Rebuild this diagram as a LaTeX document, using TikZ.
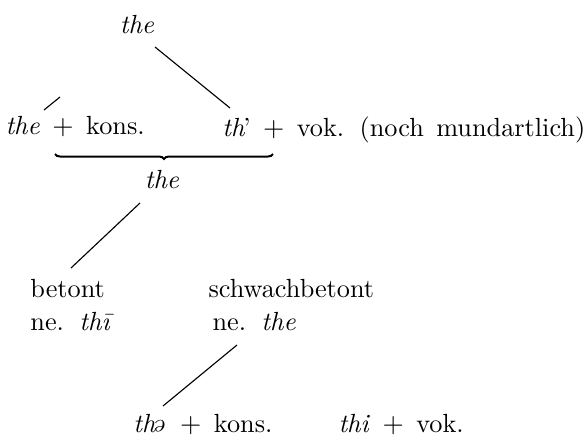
\documentclass[tikz,border=0pt]{standalone}
\usepackage{tikz}
\usepackage{graphicx}
\usetikzlibrary{positioning,calc,decorations.pathreplacing}
\newcommand{\schwa}{\rotatebox[origin=c]{180}{e}}
\newcommand{\wordfont}{\fontsize{10.5}{12}\selectfont\spaceskip=5pt plus 1pt\relax}

\begin{document}
\begin{tikzpicture}[x=0.4pt,y=-0.4pt,inner sep=0pt,
  word/.style={anchor=base west,font=\wordfont},
  branch/.style={line width=0.45pt},
  joinbrace/.style={line width=0.8pt,decorate,
    decoration={brace,mirror,amplitude=2pt}}]
   \useasboundingbox (0,0) rectangle (588,440);
   % ae. the und seine zwei formen
   \node[word,anchor=base] (the0) at (137,33) {\textit{the}};
   \node[word] (kons) at (5,134) {\textit{the} $+$ kons.};
   \node[word] (vok) at (222,136) {\textit{th}\kern-0.8pt' $+$ vok. (noch mundartlich)};
   \coordinate (bl) at (55,154);
   \coordinate (br) at (273,154);
   \draw[joinbrace] (bl) -- (br);
   \node[word,anchor=base] (the1) at (162,189) {\textit{the}};
   % betont / schwachbetont
   \node[word] (bet) at (30,298) {betont};
   \node[word] (bet2) at (30,330) {ne. \textit{th\=\i}};
   \node[word] (schw) at (208,298) {schwachbetont};
   \node[word] (schw2) at (212,330) {ne. \textit{the}};
   \node[word] (skons) at (133,432) {\textit{th\schwa} $+$ kons.};
   \node[word] (svok) at (338,432) {\textit{thi} $+$ vok.};
   % aeste
   \coordinate (a0) at (60,97);
   \coordinate (a1) at (44,110);
   \coordinate (b0) at (155,47);
   \coordinate (b1) at (230,108);
   \coordinate (c0) at (140,203);
   \coordinate (c1) at (71,268);
   \coordinate (d0) at (237,345);
   \coordinate (d1) at (163,406);
   \path[branch]
    (a0) edge (a1)
    (b0) edge (b1)
    (c0) edge (c1)
    (d0) edge (d1);
\end{tikzpicture}
\end{document}
